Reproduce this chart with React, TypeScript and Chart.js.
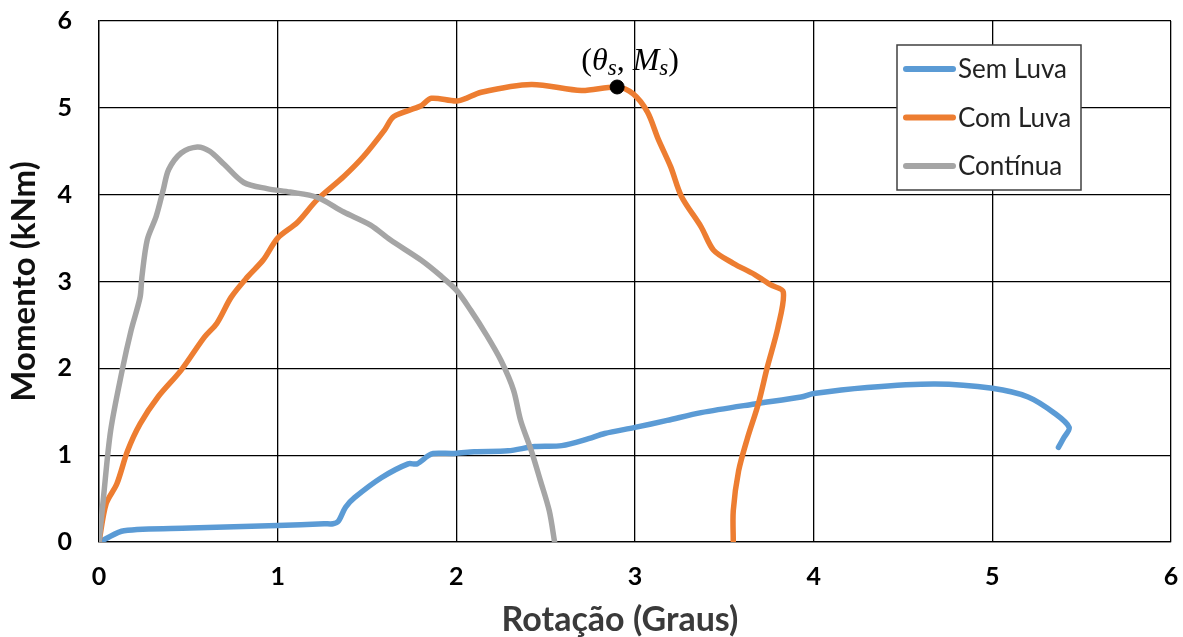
import React, { useEffect, useRef } from "react";
import { Chart, registerables } from "chart.js";

Chart.register(...registerables);

// ---- Data ----
const xTicks = [0, 1, 2, 3, 4, 5, 6];
const yTicks = [0, 1, 2, 3, 4, 5, 6];

const semLuvaX = [0, 0.03, 0.14, 0.51, 1.0, 1.26, 1.31, 1.34, 1.38, 1.43, 1.58, 1.73, 1.78, 1.84, 1.87, 1.99, 2.10, 2.29, 2.44, 2.59, 2.74, 2.83, 3.0, 3.18, 3.37, 3.67, 3.93, 4.0, 4.30, 4.68, 5.0, 5.20, 5.35, 5.43, 5.40, 5.37];
const semLuvaY = [0, 0.03, 0.13, 0.16, 0.19, 0.21, 0.21, 0.24, 0.40, 0.51, 0.74, 0.90, 0.90, 0.99, 1.02, 1.02, 1.04, 1.05, 1.10, 1.11, 1.19, 1.25, 1.32, 1.40, 1.49, 1.59, 1.67, 1.71, 1.78, 1.82, 1.77, 1.67, 1.48, 1.32, 1.20, 1.09];

const comLuvaX = [0, 0.04, 0.10, 0.16, 0.23, 0.33, 0.46, 0.59, 0.66, 0.74, 0.83, 0.92, 1.0, 1.11, 1.22, 1.37, 1.48, 1.60, 1.65, 1.80, 1.86, 2.01, 2.14, 2.42, 2.70, 2.90, 2.99, 3.07, 3.13, 3.20, 3.26, 3.37, 3.44, 3.55, 3.67, 3.76, 3.83, 3.80, 3.74, 3.69, 3.63, 3.58, 3.55, 3.55];
const comLuvaY = [0, 0.44, 0.67, 1.05, 1.36, 1.67, 1.98, 2.36, 2.52, 2.82, 3.05, 3.25, 3.50, 3.68, 3.94, 4.21, 4.44, 4.75, 4.90, 5.02, 5.11, 5.08, 5.18, 5.27, 5.20, 5.24, 5.16, 4.95, 4.64, 4.32, 3.98, 3.63, 3.36, 3.21, 3.08, 2.96, 2.88, 2.47, 2.01, 1.59, 1.20, 0.82, 0.36, 0.01];

const continuaX = [0, 0.025, 0.065, 0.13, 0.18, 0.23, 0.24, 0.27, 0.32, 0.36, 0.39, 0.46, 0.55, 0.62, 0.70, 0.81, 0.94, 1.07, 1.22, 1.37, 1.52, 1.63, 1.80, 1.91, 2.0, 2.08, 2.17, 2.25, 2.32, 2.36, 2.42, 2.47, 2.52, 2.55];
const continuaY = [0, 0.51, 1.28, 1.98, 2.44, 2.82, 3.05, 3.48, 3.75, 4.06, 4.29, 4.48, 4.55, 4.50, 4.35, 4.14, 4.07, 4.03, 3.97, 3.80, 3.65, 3.48, 3.25, 3.07, 2.90, 2.67, 2.38, 2.09, 1.75, 1.40, 1.05, 0.71, 0.36, 0];

const seriesLabels = ["Sem Luva", "Com Luva", "Contínua"];
const seriesColors = ["#5B9BD5", "#ED7D31", "#A5A5A5"];

const thetaS = 2.9;
const momentS = 5.24;

const xTitle = "Rotação (Graus)";
const yTitle = "Momento (kNm)";

const toPoints = (xs: number[], ys: number[]) => xs.map((x, i) => ({ x, y: ys[i] }));

const zeroPadding = (s: any) => {
  s.paddingTop = 0;
  s.paddingBottom = 0;
  s.paddingLeft = 0;
  s.paddingRight = 0;
};

const legendPlugin = {
  id: "boxLegend",
  afterDraw(chart: any) {
    const { ctx, chartArea } = chart;
    const boxW = 184;
    const boxH = 145;
    const right = chartArea.right - 90;
    const left = right - boxW;
    const top = chartArea.top + 24;
    ctx.save();
    ctx.fillStyle = "#ffffff";
    ctx.fillRect(left, top, boxW, boxH);
    ctx.strokeStyle = "#404040";
    ctx.lineWidth = 1.5;
    ctx.strokeRect(left, top, boxW, boxH);
    ctx.font = "26px Lato";
    ctx.textBaseline = "middle";
    ctx.textAlign = "left";
    seriesLabels.forEach((label, i) => {
      const y = top + 24 + i * 48.5;
      ctx.strokeStyle = seriesColors[i];
      ctx.lineWidth = 6;
      ctx.lineCap = "round";
      ctx.beginPath();
      ctx.moveTo(left + 9, y);
      ctx.lineTo(left + 56, y);
      ctx.stroke();
      ctx.fillStyle = "#222";
      ctx.fillText(label, left + 61, y + 1);
    });
    ctx.restore();
  },
};

const xTitlePlugin = {
  id: "xTitle",
  afterDraw(chart: any) {
    const { ctx, chartArea, height } = chart;
    ctx.save();
    ctx.font = "bold 34px Lato";
    ctx.fillStyle = "#3a3a3a";
    ctx.textAlign = "center";
    ctx.textBaseline = "middle";
    ctx.fillText(xTitle, chartArea.left + 521, height - 17);
    ctx.restore();
  },
};

const annotationPlugin = {
  id: "thetaLabel",
  afterDatasetsDraw(chart: any) {
    const { ctx, scales } = chart;
    const px = scales.x.getPixelForValue(thetaS);
    const py = scales.y.getPixelForValue(momentS);
    const base = py - 17;
    const serif = "'Liberation Serif'";
    const parts: { t: string; f: string; dy: number }[] = [
      { t: "(", f: `32px ${serif}`, dy: 0 },
      { t: "θ", f: `italic 32px ${serif}`, dy: 0 },
      { t: "s", f: `italic 23px ${serif}`, dy: 5 },
      { t: ", ", f: `32px ${serif}`, dy: 0 },
      { t: "M", f: `italic 32px ${serif}`, dy: 0 },
      { t: "s", f: `italic 23px ${serif}`, dy: 5 },
      { t: ")", f: `32px ${serif}`, dy: 0 },
    ];
    ctx.save();
    ctx.fillStyle = "#000";
    ctx.textBaseline = "alphabetic";
    ctx.textAlign = "left";
    let total = 0;
    parts.forEach((p) => {
      ctx.font = p.f;
      total += ctx.measureText(p.t).width;
    });
    let x = px + 13 - total / 2;
    parts.forEach((p) => {
      ctx.font = p.f;
      ctx.fillText(p.t, x, base + p.dy);
      x += ctx.measureText(p.t).width;
    });
    ctx.restore();
  },
};

export default function App() {
  const canvasRef = useRef<HTMLCanvasElement | null>(null);

  useEffect(() => {
    document.body.style.margin = "0";
    const canvas = canvasRef.current;
    if (!canvas) return;
    const lineDs = (i: number, xs: number[], ys: number[], order: number) => ({
      label: seriesLabels[i],
      data: toPoints(xs, ys),
      borderColor: seriesColors[i],
      backgroundColor: seriesColors[i],
      borderWidth: 5.5,
      showLine: true,
      pointRadius: 0,
      tension: 0.3,
      borderCapStyle: "round",
      borderJoinStyle: "round",
      order,
    });
    const chart = new Chart(canvas, {
      type: "scatter",
      data: {
        datasets: [
          lineDs(0, semLuvaX, semLuvaY, 3),
          lineDs(1, comLuvaX, comLuvaY, 2),
          lineDs(2, continuaX, continuaY, 1),
          {
            label: "(θs, Ms)",
            data: [{ x: thetaS, y: momentS }],
            pointRadius: 7,
            pointHoverRadius: 7,
            backgroundColor: "#000",
            borderColor: "#000",
            showLine: false,
            order: 0,
          } as any,
        ],
      },
      options: {
        responsive: false,
        animation: false,
        events: [],
        layout: { autoPadding: false, padding: { left: 0, top: 21, right: 12, bottom: 0 } },
        plugins: { legend: { display: false }, tooltip: { enabled: false } },
        scales: {
          x: {
            type: "linear",
            min: 0,
            max: 6,
            afterBuildTicks: (s: any) => {
              s.ticks = xTicks.map((v) => ({ value: v }));
            },
            afterFit: (s: any) => {
              s.height = 95;
              zeroPadding(s);
            },
            ticks: {
              font: { family: "Lato", size: 25, weight: "bold" },
              color: "#000",
              padding: 20,
            },
            grid: { color: "#000", lineWidth: 1.3, drawTicks: false },
            border: { color: "#000", width: 1.3 },
            title: { display: false },
          },
          y: {
            type: "linear",
            min: 0,
            max: 6,
            afterBuildTicks: (s: any) => {
              s.ticks = yTicks.map((v) => ({ value: v }));
            },
            afterFit: (s: any) => {
              s.width = 99;
              zeroPadding(s);
            },
            ticks: {
              font: { family: "Lato", size: 25, weight: "bold" },
              color: "#000",
              padding: 27,
            },
            grid: { color: "#000", lineWidth: 1.3, drawTicks: false },
            border: { color: "#000", width: 1.3 },
            title: {
              display: true,
              text: yTitle,
              font: { family: "Lato", size: 33, weight: "bold", lineHeight: 1 },
              color: "#111",
              padding: { top: 8, bottom: 0 },
            },
          },
        },
      } as any,
      plugins: [legendPlugin, annotationPlugin, xTitlePlugin],
    });
    return () => chart.destroy();
  }, []);

  return (
    <div style={{ width: 1183, height: 637, background: "#fff" }}>
      <canvas ref={canvasRef} width={1183} height={637} />
    </div>
  );
}
